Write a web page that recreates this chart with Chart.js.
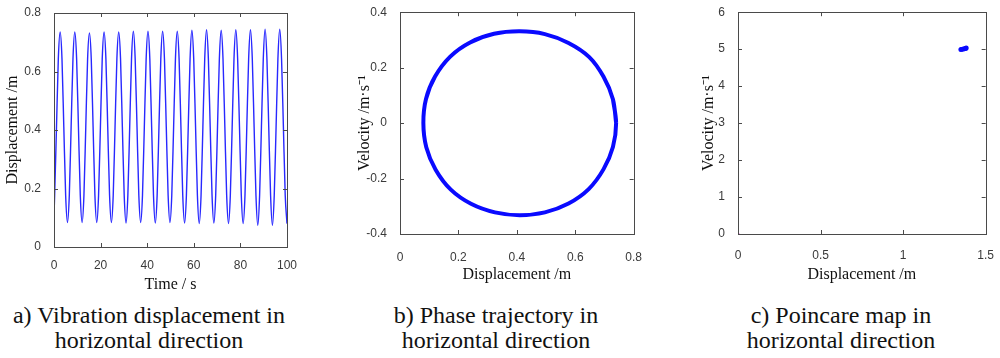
<!DOCTYPE html>
<html lang="en">
<head>
    <meta charset="UTF-8">
    <title>Horizontal vibration response</title>
    <script src="https://cdn.jsdelivr.net/npm/chart.js@4"></script>
    <style>
        body {
            margin: 0;
            width: 1000px;
            height: 358px;
            background: #fff;
            position: relative;
            overflow: hidden;
        }
        canvas {
            position: absolute;
            top: 0;
        }
        .caption {
            position: absolute;
            top: 303px;
            width: 340px;
            margin-left: -170px;
            text-align: center;
            font-family: "Liberation Serif", "Times New Roman", serif;
            font-size: 24px;
            line-height: 25px;
            color: #111;
        }
    </style>
</head>
<body>
    <canvas id="chartA" width="300" height="296" style="left:0px"></canvas>
    <canvas id="chartB" width="310" height="296" style="left:340px"></canvas>
    <canvas id="chartC" width="330" height="296" style="left:670px"></canvas>

    <div class="caption" style="left:149px">a) Vibration displacement in<br>horizontal direction</div>
    <div class="caption" style="left:496px">b) Phase trajectory in<br>horizontal direction</div>
    <div class="caption" style="left:841px">c) Poincare map in<br>horizontal direction</div>

    <script>
        // a) displacement vs time, one line per oscillation (peak first)
        const timeS = [
            0, 0.28, 1.07, 1.85,
            2.64, 3.43, 4.21, 5.00, 5.78, 6.57, 7.35, 8.14,
            8.92, 9.71, 10.49, 11.28, 12.06, 12.85, 13.64, 14.42,
            15.21, 15.99, 16.78, 17.56, 18.35, 19.13, 19.92, 20.70,
            21.49, 22.28, 23.06, 23.85, 24.63, 25.42, 26.20, 26.99,
            27.77, 28.56, 29.34, 30.13, 30.91, 31.70, 32.49, 33.27,
            34.06, 34.84, 35.63, 36.41, 37.20, 37.98, 38.77, 39.55,
            40.34, 41.13, 41.91, 42.70, 43.48, 44.27, 45.05, 45.84,
            46.62, 47.41, 48.19, 48.98, 49.76, 50.55, 51.34, 52.12,
            52.91, 53.69, 54.48, 55.26, 56.05, 56.83, 57.62, 58.40,
            59.19, 59.97, 60.76, 61.55, 62.33, 63.12, 63.90, 64.69,
            65.47, 66.26, 67.04, 67.83, 68.61, 69.40, 70.18, 70.97,
            71.76, 72.54, 73.33, 74.11, 74.90, 75.68, 76.47, 77.25,
            78.04, 78.82, 79.61, 80.39, 81.18, 81.97, 82.75, 83.54,
            84.32, 85.11, 85.89, 86.68, 87.46, 88.25, 89.03, 89.82,
            90.60, 91.39, 92.17, 92.96, 93.75, 94.53, 95.32, 96.10,
            96.89, 97.67, 98.46, 99.24,
            100
        ];
        const dispM = [
            0.11, 0.177, 0.41, 0.643,
            0.735, 0.643, 0.41, 0.177, 0.084, 0.177, 0.41, 0.643,
            0.735, 0.643, 0.41, 0.177, 0.084, 0.177, 0.41, 0.643,
            0.732, 0.643, 0.41, 0.177, 0.084, 0.177, 0.41, 0.643,
            0.735, 0.643, 0.41, 0.177, 0.084, 0.177, 0.41, 0.643,
            0.735, 0.643, 0.41, 0.177, 0.082, 0.177, 0.41, 0.643,
            0.738, 0.643, 0.41, 0.177, 0.084, 0.177, 0.41, 0.643,
            0.738, 0.643, 0.41, 0.177, 0.082, 0.177, 0.41, 0.643,
            0.738, 0.643, 0.41, 0.177, 0.084, 0.177, 0.41, 0.643,
            0.738, 0.643, 0.41, 0.177, 0.082, 0.177, 0.41, 0.643,
            0.741, 0.643, 0.41, 0.177, 0.080, 0.177, 0.41, 0.643,
            0.743, 0.643, 0.41, 0.177, 0.082, 0.177, 0.41, 0.643,
            0.741, 0.643, 0.41, 0.177, 0.080, 0.177, 0.41, 0.643,
            0.743, 0.643, 0.41, 0.177, 0.080, 0.177, 0.41, 0.643,
            0.743, 0.643, 0.41, 0.177, 0.074, 0.177, 0.41, 0.643,
            0.745, 0.643, 0.41, 0.177, 0.074, 0.177, 0.41, 0.643,
            0.745, 0.643, 0.41, 0.177,
            0.08
        ];

        // b) phase trajectory (displacement, velocity), once round plus overlap
        const phaseX = [
            0.740, 0.729, 0.697, 0.648, 0.577, 0.496, 0.410, 0.322, 0.240, 0.172, 0.120, 0.089,
            0.080, 0.090, 0.122, 0.174, 0.243, 0.325, 0.410, 0.496, 0.577, 0.646, 0.697, 0.729,
            0.740, 0.729
        ];
        const phaseV = [
            0.000, 0.086, 0.167, 0.238, 0.289, 0.321, 0.331, 0.322, 0.291, 0.240, 0.168, 0.087,
            0.000, -0.087, -0.168, -0.240, -0.291, -0.322, -0.332, -0.322, -0.290, -0.238, -0.166, -0.086,
            0.000, 0.086
        ];

        // c) Poincare section points
        const poincareX = [1.350, 1.360, 1.370, 1.378, 1.382];
        const poincareV = [4.99, 5.00, 5.01, 5.02, 5.03];
        const originX = [0];
        const originV = [0];

        const tickFont = { family: '"Liberation Sans", Arial, sans-serif', size: 12 };
        const titleFont = { family: '"Liberation Serif", "Times New Roman", serif', size: 16, lineHeight: 1.2 };
        const tickColor = '#3a3a3a';
        const frameColor = '#4a4a4a';

        function pairs(xs, ys) {
            return xs.map((x, i) => ({ x: x, y: ys[i] }));
        }

        // MATLAB-like box with inward ticks on all four sides
        const boxPlugin = {
            id: 'box',
            afterDraw(chart) {
                const { ctx, chartArea: a, scales } = chart;
                const len = 4;
                ctx.save();
                ctx.strokeStyle = frameColor;
                ctx.lineWidth = 1;
                ctx.beginPath();
                scales.x.ticks.forEach(t => {
                    const px = Math.round(scales.x.getPixelForValue(t.value)) + 0.5;
                    ctx.moveTo(px, a.bottom); ctx.lineTo(px, a.bottom - len);
                    ctx.moveTo(px, a.top); ctx.lineTo(px, a.top + len);
                });
                scales.y.ticks.forEach(t => {
                    const py = Math.round(scales.y.getPixelForValue(t.value)) + 0.5;
                    ctx.moveTo(a.left, py); ctx.lineTo(a.left + len, py);
                    ctx.moveTo(a.right, py); ctx.lineTo(a.right - len, py);
                });
                ctx.stroke();
                ctx.strokeRect(Math.round(a.left) + 0.5, Math.round(a.top) + 0.5,
                    Math.round(a.right - a.left), Math.round(a.bottom - a.top));
                ctx.restore();
            }
        };

        function axis(min, max, step, title, cfg) {
            return {
                type: 'linear',
                min: min,
                max: max,
                grid: { display: false },
                border: { display: false },
                ticks: {
                    stepSize: step,
                    font: tickFont,
                    color: tickColor,
                    padding: cfg.tickPad,
                    maxRotation: 0,
                    autoSkip: false,
                    callback: v => String(Number(v.toFixed(2)))
                },
                title: {
                    display: true,
                    text: title,
                    color: '#111',
                    font: titleFont,
                    padding: cfg.titlePad
                },
                afterFit(scale) {
                    if (cfg.width) scale.width = cfg.width;
                    if (cfg.height) scale.height = cfg.height;
                }
            };
        }

        function baseOptions(pad, xScale, yScale) {
            return {
                responsive: false,
                animation: false,
                devicePixelRatio: 1,
                layout: { padding: pad },
                plugins: {
                    legend: { display: false },
                    tooltip: { enabled: false }
                },
                scales: { x: xScale, y: yScale }
            };
        }

        // a) vibration displacement
        new Chart(document.getElementById('chartA'), {
            type: 'scatter',
            data: {
                datasets: [{
                    data: pairs(timeS, dispM),
                    showLine: true,
                    borderColor: '#2828ff',
                    borderWidth: 1.4,
                    pointRadius: 0,
                    cubicInterpolationMode: 'monotone'
                }]
            },
            options: baseOptions(
                { top: 13, right: 12, left: 0, bottom: 0 },
                axis(0, 100, 20, 'Time / s', { height: 49, tickPad: 3, titlePad: { top: 0, bottom: 1.4 } }),
                axis(0, 0.8, 0.2, 'Displacement /m', { width: 54, tickPad: 5, titlePad: { top: 3.4, bottom: 0 } })
            ),
            plugins: [boxPlugin]
        });

        // b) phase trajectory
        new Chart(document.getElementById('chartB'), {
            type: 'scatter',
            data: {
                datasets: [{
                    data: pairs(phaseX, phaseV),
                    showLine: true,
                    borderColor: '#0a0aff',
                    borderWidth: 4,
                    pointRadius: 0,
                    tension: 0.34
                }]
            },
            options: baseOptions(
                { top: 12, right: 14, left: 0, bottom: 0 },
                axis(0, 0.8, 0.2, 'Displacement /m', { height: 62, tickPad: 8, titlePad: { top: 0, bottom: 11.4 } }),
                axis(-0.4, 0.4, 0.2, 'Velocity /m\u00b7s\u207b\u00b9', { width: 60, tickPad: 5, titlePad: { top: 15.4, bottom: 0 } })
            ),
            plugins: [boxPlugin]
        });

        // c) Poincare map
        new Chart(document.getElementById('chartC'), {
            type: 'scatter',
            data: {
                datasets: [{
                    data: pairs(poincareX, poincareV),
                    backgroundColor: '#0a0aff',
                    borderColor: '#0a0aff',
                    pointRadius: 2.5,
                    borderWidth: 0
                }, {
                    data: pairs(originX, originV),
                    backgroundColor: '#e020e0',
                    borderColor: '#e020e0',
                    pointRadius: 1.5,
                    borderWidth: 0
                }]
            },
            options: baseOptions(
                { top: 7, right: 14, left: 0, bottom: 0 },
                axis(0, 1.5, 0.5, 'Displacement /m', { height: 62, tickPad: 6, titlePad: { top: 0, bottom: 11.4 } }),
                axis(0, 6, 1, 'Velocity /m\u00b7s\u207b\u00b9', { width: 68, tickPad: 5, titlePad: { top: 28.7, bottom: 0 } })
            ),
            plugins: [boxPlugin]
        });
    </script>
</body>
</html>
